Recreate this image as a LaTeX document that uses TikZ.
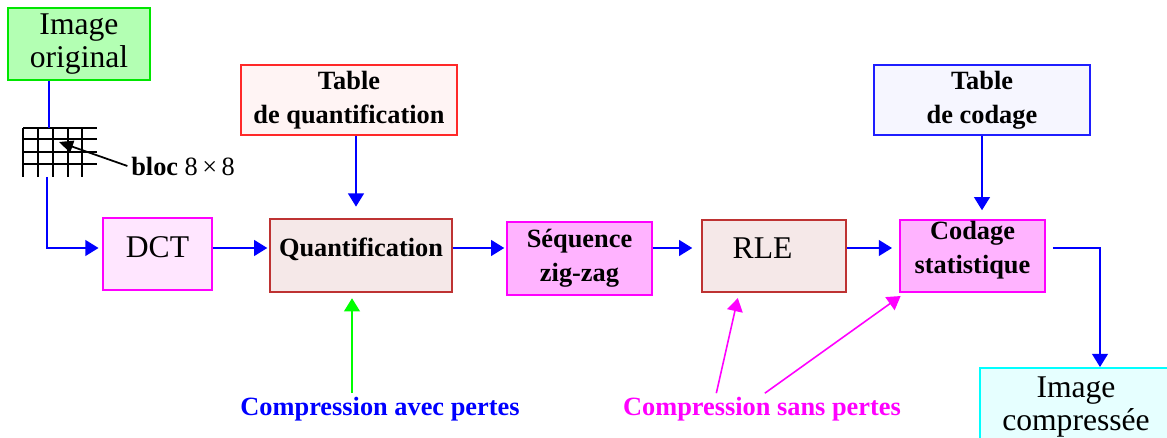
\documentclass[tikz,border=0pt]{standalone}
\usepackage{fontspec}
\setmainfont{Liberation Serif}
\usetikzlibrary{arrows.meta,calc}
\definecolor{vertbord}{RGB}{0,230,0}
\definecolor{vertfond}{RGB}{179,255,179}
\definecolor{vif}{RGB}{0,255,0}
\definecolor{rougebord}{RGB}{255,40,40}
\definecolor{rougefond}{RGB}{255,244,244}
\definecolor{brunbord}{RGB}{190,50,50}
\definecolor{brunfond}{RGB}{245,232,232}
\definecolor{mag}{RGB}{255,0,255}
\definecolor{rosefond}{RGB}{255,230,255}
\definecolor{magfond}{RGB}{255,179,255}
\definecolor{bleu}{RGB}{0,0,255}
\definecolor{bleubord}{RGB}{30,30,255}
\definecolor{bleufond}{RGB}{246,246,255}
\definecolor{cyanbord}{RGB}{0,255,255}
\definecolor{cyanfond}{RGB}{230,255,255}
\tikzset{boite/.style={draw, line width=1.1pt, inner sep=0pt, align=center}}
\tikzset{grand/.style={font=\fontsize{18}{19}\selectfont}}
\tikzset{gras/.style={font=\fontsize{15}{19.5}\selectfont\bfseries}}
\tikzset{fleche/.style={line width=1pt, -{Triangle[length=7.5pt,width=9pt]}}}

\begin{document}
\begin{tikzpicture}[x=0.02cm,y=-0.02cm]
\useasboundingbox (0,0) rectangle (1167,438);

\node[boite,grand,draw=vertbord,fill=vertfond,minimum width=2.84cm,minimum height=1.44cm] (orig) at (79,44) {Image\\original};
\node[boite,grand,draw=mag,fill=rosefond,minimum width=2.18cm,minimum height=1.44cm,text depth=8pt] (dct) at (157.5,254) {DCT};
\node[boite,gras,draw=rougebord,fill=rougefond,minimum width=4.32cm,minimum height=1.4cm] (tabq) at (349,100) {Table\\de quantification};
\node[boite,gras,draw=brunbord,fill=brunfond,minimum width=3.64cm,minimum height=1.46cm,text depth=9pt] (quant) at (361,255.5) {Quantification};
\node[boite,gras,draw=mag,fill=magfond,minimum width=2.9cm,minimum height=1.46cm] (zig) at (579.5,258.5) {Séquence\\zig-zag};
\node[boite,grand,draw=brunbord,fill=brunfond,minimum width=2.88cm,minimum height=1.44cm,text depth=9pt] (rle) at (774,256) {RLE\hspace*{13pt}};
\node[boite,gras,draw=mag,fill=magfond,minimum width=2.9cm,minimum height=1.44cm,text depth=10pt] (code) at (972.5,256) {Codage\\statistique};
\node[boite,gras,draw=bleubord,fill=bleufond,minimum width=4.32cm,minimum height=1.4cm] (tabc) at (982,100) {Table\\de codage};
\node[boite,grand,draw=cyanbord,fill=cyanfond,minimum width=3.84cm,minimum height=1.56cm] (compr) at (1076,407) {Image\\compressée};

\node[gras,text=bleu,inner sep=2pt] (avec) at (380,409) {Compression avec pertes};
\node[gras,text=mag,inner sep=2pt] (sans) at (762,409) {Compression sans pertes};

% bloc 8x8
\foreach \x in {23,38,53,68,82}
  \draw[line width=1pt] (\x,128) -- (\x,177);
\foreach \y in {128,139,152,164}
  \draw[line width=1pt] (23,\y) -- (97,\y);
\node[font=\fontsize{15}{15}\selectfont,inner sep=2pt] (lbloc) at (183,166) {\textbf{bloc} 8\,×\,8};
\coordinate (pointe) at (59,142);
\draw[line width=1pt,-{Triangle[length=8pt,width=7pt]}] (lbloc.west) -- (pointe);

\coordinate (ghaut) at (49,128);
\coordinate (gbas) at (47,177);
\coordinate (ligne) at (0,248);
\coordinate (fq) at (356,0);
\coordinate (fv) at (352,0);
\coordinate (sortie) at (1100,0);

\draw[bleu,line width=1pt] (orig.south-|ghaut) -- (ghaut);
\draw[fleche,bleu,shorten >=2pt] (gbas) |- (dct.west|-ligne);
\draw[fleche,bleu,shorten >=1pt] (dct.east|-ligne) -- (quant.west|-ligne);
\draw[fleche,bleu,shorten >=1pt] (quant.east|-ligne) -- (zig.west|-ligne);
\draw[fleche,bleu,shorten >=5pt] (zig.east|-ligne) -- (rle.west|-ligne);
\draw[fleche,bleu,shorten >=4pt] (rle.east|-ligne) -- (code.west|-ligne);
\draw[fleche,bleu,shorten <=4pt] (code.east|-ligne) -| (compr.north-|sortie);
\draw[fleche,bleu,shorten >=6.5pt] (tabq.south-|fq) -- (quant.north-|fq);
\draw[fleche,bleu,shorten >=5pt] (tabc.south) -- (code.north-|tabc.south);

\draw[fleche,vif,shorten >=3pt] (avec.north-|fv) -- (quant.south-|fv);
\draw[fleche,mag,line width=0.9pt,shorten >=3pt] ($(sans.north west)!0.34!(sans.north east)$) -- ($(rle.south west)!0.26!(rle.south east)$);
\draw[fleche,mag,line width=0.9pt,shorten >=3pt] ($(sans.north west)!0.51!(sans.north east)$) -- ($(code.south west)!0.04!(code.south east)$);
\end{tikzpicture}
\end{document}
